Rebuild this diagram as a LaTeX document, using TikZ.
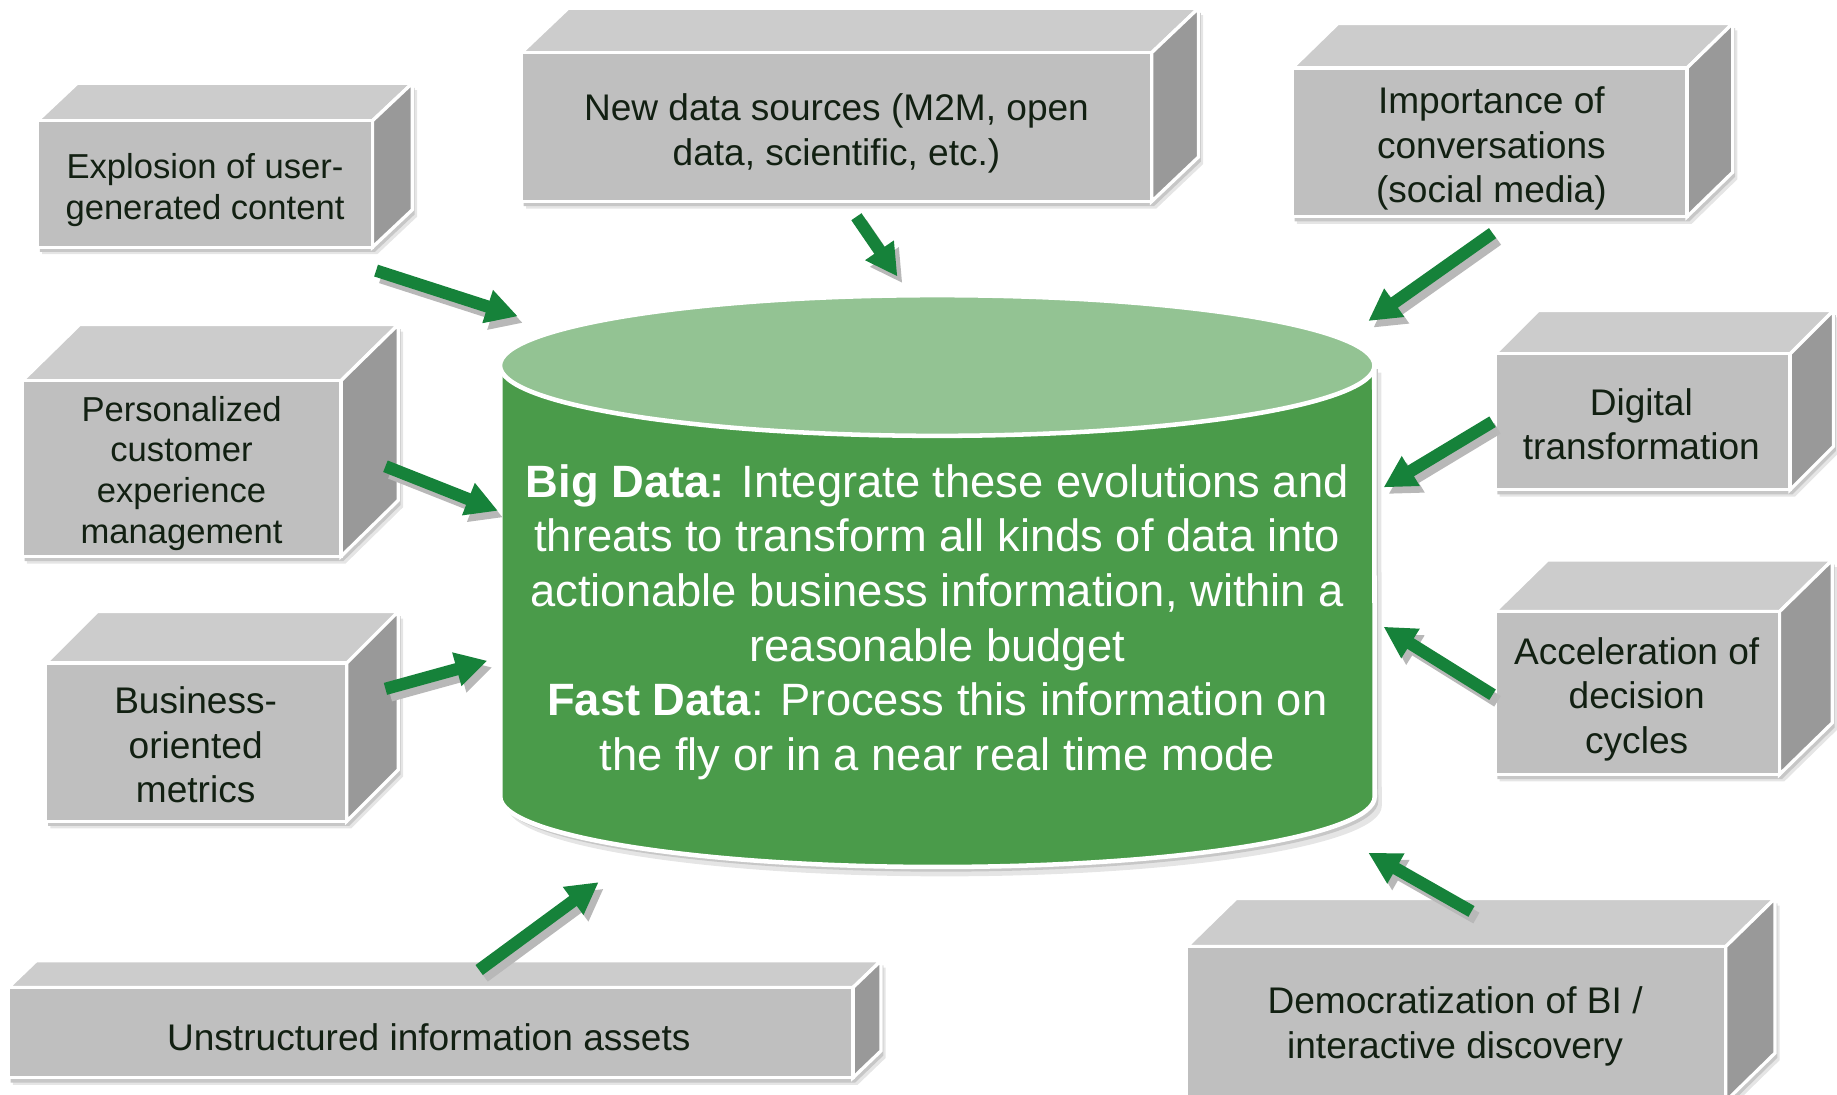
\documentclass[tikz,border=0pt]{standalone}
\usepackage{fontspec}
\setmainfont{Liberation Sans}
\usetikzlibrary{arrows.meta,calc}

\definecolor{slabfront}{HTML}{BFBFBF}
\definecolor{slabtop}{HTML}{CCCCCC}
\definecolor{slabside}{HTML}{999999}
\definecolor{slabink}{HTML}{122012}
\definecolor{cylbody}{HTML}{4A9B4A}
\definecolor{cyltop}{HTML}{93C393}
\definecolor{flowgreen}{HTML}{16823A}

% A 3-D slab: front face (#1,#2)-(#3,#4), depth offset (#5,#6)
\newcommand\drawslab[6]{%
  \fill[black!10] ({#1+4},{#2+6}) -- ({#1+#5+4},{#2-#6+6}) -- ({#3+#5+4},{#2-#6+6})
        -- ({#3+#5+4},{#4-#6+6}) -- ({#3+4},{#4+6}) -- ({#1+4},{#4+6}) -- cycle;
  \fill[black!22] ({#1+2},{#2+4}) -- ({#1+#5+2},{#2-#6+4}) -- ({#3+#5+2},{#2-#6+4})
        -- ({#3+#5+2},{#4-#6+4}) -- ({#3+2},{#4+4}) -- ({#1+2},{#4+4}) -- cycle;
  \filldraw[slabedge, fill=slabtop] (#1,#2) -- ({#1+#5},{#2-#6}) -- ({#3+#5},{#2-#6}) -- (#3,#2) -- cycle;
  \filldraw[slabedge, fill=slabside] (#3,#2) -- ({#3+#5},{#2-#6}) -- ({#3+#5},{#4-#6}) -- (#3,#4) -- cycle;
  \filldraw[slabedge, fill=slabfront] (#1,#2) rectangle (#3,#4);
}

\tikzset{
  slabedge/.style={draw=white, line width=0.8pt, line join=miter},
  slabtext/.style={text=slabink, align=center, inner sep=0pt,
                   font=\fontsize{9}{10.8}\selectfont},
  smalltext/.style={font=\fontsize{8.4}{9.9}\selectfont},
  flow/.style={draw=flowgreen, line width=3pt,
               -{Triangle[length=7.7pt,width=7.9pt]}},
  flowshade/.style={draw=black!28, line width=3pt,
               -{Triangle[length=7.7pt,width=7.9pt]},
               transform canvas={xshift=1.2pt, yshift=-1.6pt}},
}

\begin{document}
\begin{tikzpicture}[x=0.01cm, y=-0.01cm]
\useasboundingbox (0,0) rectangle (1568,934);
\clip (0,0) rectangle (1568,934);

% ---------- central data store ----------
\fill[black!10] (433,318) -- (433,688) arc[start angle=180, end angle=360, x radius=3.73cm, y radius=0.6cm]
      -- (1179,318) -- cycle;
\fill[black!22] (430,315) -- (430,684) arc[start angle=180, end angle=360, x radius=3.73cm, y radius=0.6cm]
      -- (1176,315) -- cycle;
\filldraw[fill=cylbody, draw=white, line width=1.1pt]
  (427,312) -- (427,680) arc[start angle=180, end angle=360, x radius=3.73cm, y radius=0.6cm]
  -- (1173,312) -- cycle;
\filldraw[fill=cyltop, draw=white, line width=1.1pt] (800,312) ellipse[x radius=3.73cm, y radius=0.6cm];

\node[text=white, align=center, inner sep=0pt, font=\fontsize{11}{13.25}\selectfont] (bigdata) at (800,531)
  {\textbf{Big Data:} Integrate these evolutions and\\
   threats to transform all kinds of data into\\
   actionable business information, within a\\
   reasonable budget\\
   \textbf{Fast Data}: Process this information on\\
   the fly or in a near real time mode};

% ---------- surrounding slabs ----------
\drawslab{32}{103}{318}{211}{34}{32}
\node[slabtext, smalltext] (explosion) at (175,162) {Explosion of user-\\generated content};

\drawslab{445}{45}{983}{172}{40}{38}
\node[slabtext] (newdata) at (714,114) {New data sources (M2M, open\\data, scientific, etc.)};

\drawslab{1103}{58}{1440}{185}{39}{38}
\node[slabtext] (conversations) at (1273,127) {Importance of\\conversations\\(social media)};

\drawslab{19}{325}{291}{475}{49}{48}
\node[slabtext, smalltext] (personalized) at (155,404) {Personalized\\customer\\experience\\management};

\drawslab{1276}{302}{1528}{418}{37}{37}
\node[slabtext] (digital) at (1401,362) {Digital\\transformation};

\drawslab{39}{566}{296}{701}{44}{44}
\node[slabtext] (metrics) at (167,636) {Business-\\oriented\\metrics};

\drawslab{1276}{522}{1519}{661}{45}{44}
\node[slabtext] (acceleration) at (1397,597) {Acceleration of\\decision\\cycles};

\drawslab{7}{843}{728}{920}{24}{23}
\node[slabtext] (unstructured) at (366,885) {Unstructured information assets};

\drawslab{1013}{808}{1473}{940}{42}{41}
\node[slabtext] (democratization) at (1242,876) {Democratization of BI /\\interactive discovery};

% ---------- arrow end points ----------
\coordinate (explosion-out) at (321,231);     \coordinate (store-in1) at (442,270);
\coordinate (newdata-out) at (731,185);       \coordinate (store-in2) at (766,236);
\coordinate (conversations-out) at (1274,199);\coordinate (store-in3) at (1168,274);
\coordinate (personalized-out) at (329,398);  \coordinate (store-in4) at (425,436);
\coordinate (digital-out) at (1274,360);      \coordinate (store-in5) at (1181,416);
\coordinate (metrics-out) at (329,588);       \coordinate (store-in6) at (416,564);
\coordinate (acceleration-out) at (1274,593); \coordinate (store-in7) at (1181,535);
\coordinate (unstructured-out) at (409,828);  \coordinate (store-in8) at (511,753);
\coordinate (democratization-out) at (1256,778); \coordinate (store-in9) at (1168,728);

% ---------- arrows ----------
\foreach \s/\t in {explosion-out/store-in1, newdata-out/store-in2, conversations-out/store-in3,
                   personalized-out/store-in4, digital-out/store-in5, metrics-out/store-in6,
                   acceleration-out/store-in7, unstructured-out/store-in8,
                   democratization-out/store-in9}{
  \draw[flowshade] (\s) -- (\t);
  \draw[flow] (\s) -- (\t);
}
\end{tikzpicture}
\end{document}
